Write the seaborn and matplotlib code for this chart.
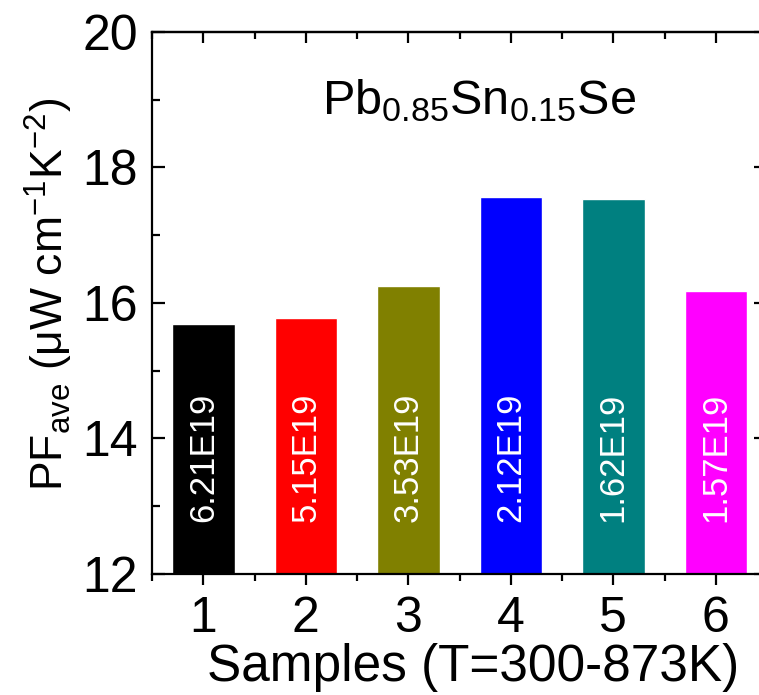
import numpy as np
import pandas as pd
import matplotlib
matplotlib.use("Agg")
import matplotlib.pyplot as plt
import seaborn as sns

# data
samples = ["1", "2", "3", "4", "5", "6"]
pf_ave = [15.69, 15.78, 16.25, 17.57, 17.53, 16.17]
carrier_labels = ["6.21E19", "5.15E19", "3.53E19", "2.12E19", "1.62E19", "1.57E19"]
bar_colors = ["#000000", "#FF0000", "#808000", "#0000FF", "#008080", "#FF00FF"]

sns.set_style("ticks")
plt.rcParams["font.family"] = ["Liberation Sans", "DejaVu Sans"]
plt.rcParams["mathtext.fontset"] = "custom"
plt.rcParams["mathtext.rm"] = "Liberation Sans"
plt.rcParams["mathtext.it"] = "Liberation Sans:italic"
plt.rcParams["mathtext.default"] = "regular"
for key in ["text.color", "axes.edgecolor", "axes.labelcolor", "xtick.color", "ytick.color"]:
    plt.rcParams[key] = "black"

df = pd.DataFrame({"sample": samples, "pf": pf_ave})

fig = plt.figure(figsize=(7.59, 6.95), dpi=100)
ax = fig.add_axes([0.2003, 0.1741, 0.8103, 0.7799])

sns.barplot(data=df, x="sample", y="pf", hue="sample", palette=bar_colors,
            width=0.61, legend=False, ax=ax, saturation=1)

ax.set_ylim(12, 20)
ax.set_xlim(-0.5, 5.5)
ax.set_yticks([12, 14, 16, 18, 20])
ax.set_yticks([13, 15, 17, 19], minor=True)
ax.set_xticks(np.arange(-0.5, 6, 1), minor=True)

for sp in ax.spines.values():
    sp.set_linewidth(1.6)
    sp.set_visible(True)

ax.tick_params(axis="x", which="major", direction="out", length=8, width=1.6,
               labelsize=36, pad=8)
ax.tick_params(axis="x", which="minor", direction="out", length=5, width=1.6)
ax.tick_params(axis="y", which="major", direction="in", length=9.5, width=1.6,
               labelsize=36, pad=10, right=True)
ax.tick_params(axis="y", which="minor", direction="in", length=6, width=1.6, right=True)

top = ax.secondary_xaxis("top")
top.set_xticks(range(len(samples)))
top.set_xticks(np.arange(-0.5, 6, 1), minor=True)
top.tick_params(which="major", direction="in", length=8, width=1.6, labeltop=False)
top.tick_params(which="minor", direction="in", length=5, width=1.6)
top.spines["top"].set_linewidth(1.6)

ax.set_xlabel("Samples (T=300-873K)", fontsize=37)
ax.xaxis.set_label_coords(0.522, -0.128)
ax.set_ylabel(r"PF$_{ave}$ (μW cm$^{-1}$K$^{-2}$)", fontsize=32)
ax.yaxis.set_label_coords(-0.125, 0.515)

# carrier concentration inside each bar
for i, lab in enumerate(carrier_labels):
    ax.text(i, 13.72, lab, rotation=90, color="white", fontsize=25,
            ha="center", va="center")

ax.text(2.69, 18.78, r"Pb$_{0.85}$Sn$_{0.15}$Se", fontsize=35,
        ha="center", va="baseline")

fig.savefig("out.png", dpi=100)
